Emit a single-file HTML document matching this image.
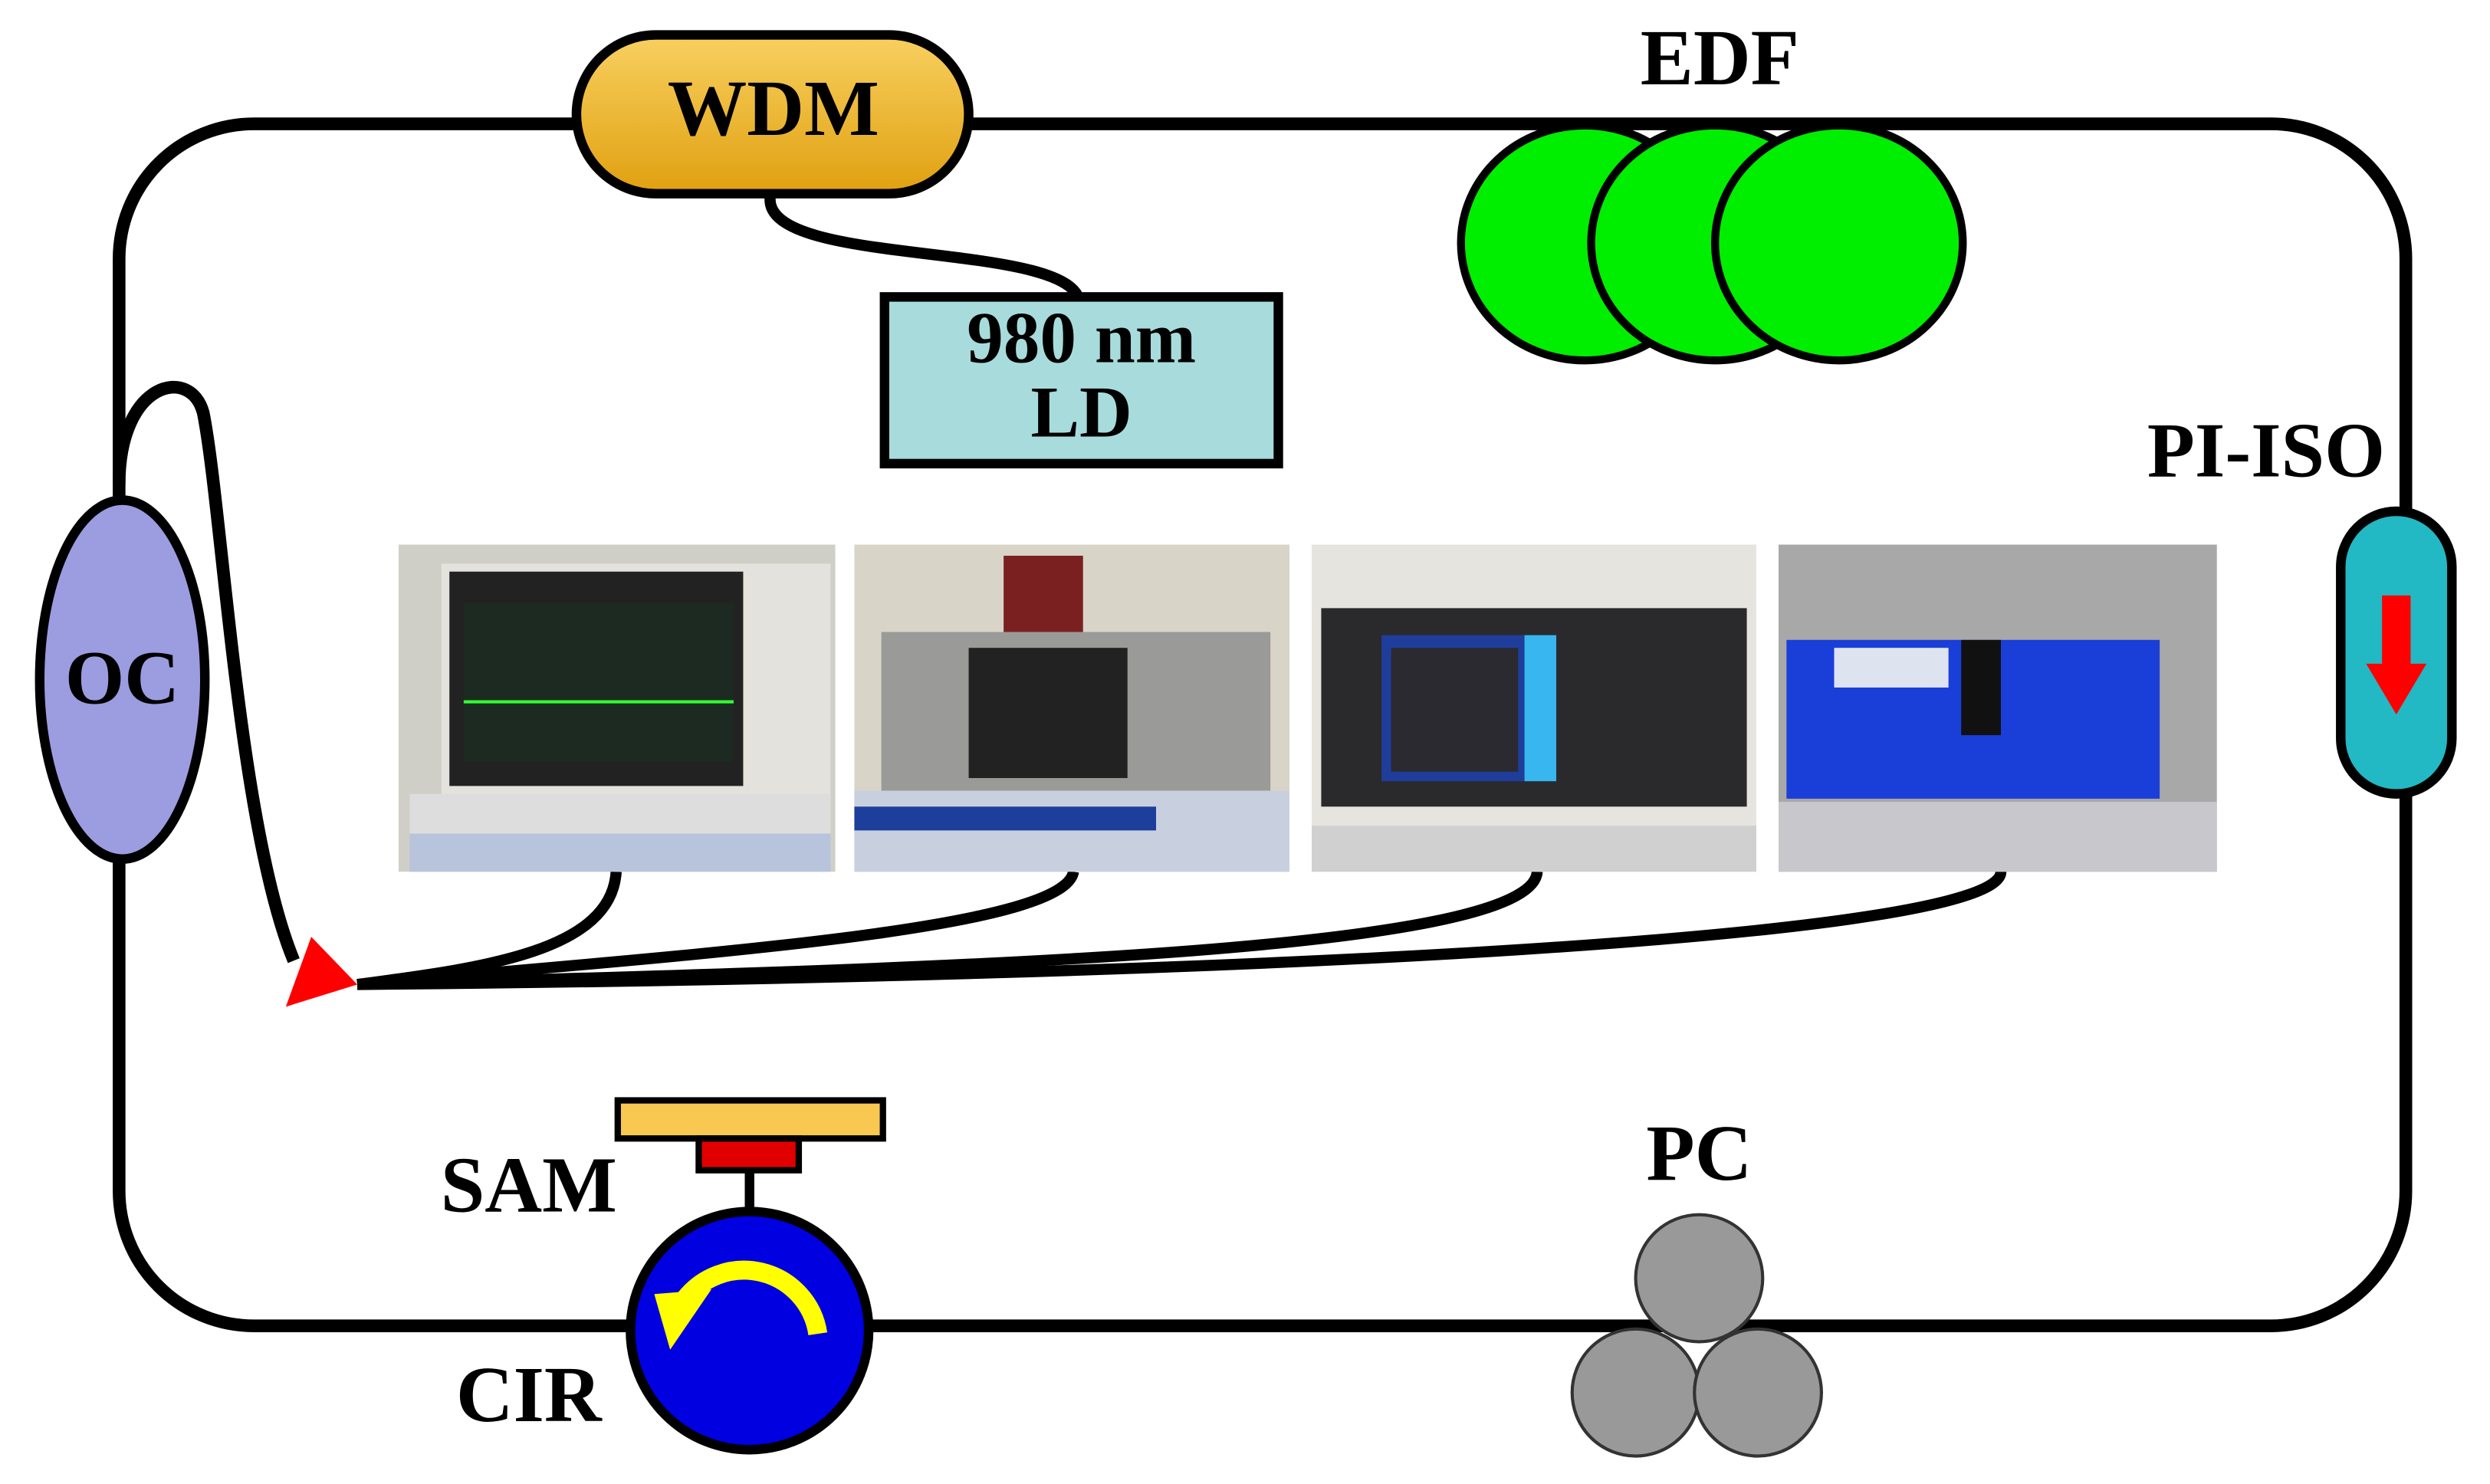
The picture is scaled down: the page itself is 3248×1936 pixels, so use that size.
<!DOCTYPE html>
<html><head><meta charset="utf-8"><style>
html,body{margin:0;padding:0;background:#fff;}
svg{display:block;}
text{font-family:"Liberation Serif",serif;font-weight:bold;fill:#000;}
</style></head><body>
<svg width="3248" height="1936" viewBox="0 0 1568 934.6" preserveAspectRatio="none" xmlns="http://www.w3.org/2000/svg">
<defs>
<linearGradient id="g1" x1="0" y1="0" x2="0" y2="1"><stop offset="0" stop-color="#f8d060"/><stop offset="1" stop-color="#e0a010"/></linearGradient>
</defs>
<rect x="75" y="78" width="1440" height="757" rx="85" fill="none" stroke="#000" stroke-width="8"/>
<path d="M75 305 C 75 240, 120 230, 128 260 C 140 320, 150 520, 185 605" fill="none" stroke="#000" stroke-width="8"/>
<g fill="none" stroke="#000" stroke-width="7">
<path d="M388 549 C 385 600, 300 610, 225 620"/>
<path d="M676 549 C 670 585, 450 600, 225 620"/>
<path d="M968 549 C 965 600, 600 610, 225 620"/>
<path d="M1260 549 C 1260 590, 800 615, 225 620"/>
</g>
<polygon points="180,634 225,620 196,590" fill="#ff0000"/>
<path d="M485 124 C 480 170, 680 150, 680 192" fill="none" stroke="#000" stroke-width="7"/>
<rect x="363" y="22" width="247" height="100" rx="50" fill="url(#g1)" stroke="#000" stroke-width="6"/>
<text x="487" y="85" font-size="50" text-anchor="middle">WDM</text>
<rect x="557" y="187" width="248" height="105" fill="#a8dcdc" stroke="#000" stroke-width="6"/>
<text x="681" y="228" font-size="46" text-anchor="middle">980 nm</text>
<text x="681" y="275" font-size="46" text-anchor="middle">LD</text>
<text x="1083" y="53" font-size="50" text-anchor="middle">EDF</text>
<ellipse cx="998" cy="153" rx="78" ry="74" fill="#00ee00" stroke="#000" stroke-width="5"/>
<ellipse cx="1080" cy="153" rx="78" ry="74" fill="#00ee00" stroke="#000" stroke-width="5"/>
<ellipse cx="1158" cy="153" rx="78" ry="74" fill="#00ee00" stroke="#000" stroke-width="5"/>
<text x="1427" y="300" font-size="49" text-anchor="middle">PI-ISO</text>
<rect x="1474" y="322" width="70" height="178" rx="35" fill="#22b8c4" stroke="#000" stroke-width="6"/>
<rect x="1500" y="375" width="18" height="45" fill="#f00"/>
<polygon points="1490,418 1528,418 1509,450" fill="#f00"/>
<ellipse cx="77" cy="428" rx="52" ry="113" fill="#9c9ce0" stroke="#000" stroke-width="6"/>
<text x="77" y="443" font-size="48" text-anchor="middle">OC</text>
<g>
<rect x="251" y="343" width="275" height="206" fill="#cfcfc8"/>
<rect x="278" y="355" width="245" height="170" fill="#e4e2dc"/>
<rect x="283" y="360" width="185" height="135" fill="#222"/>
<rect x="292" y="380" width="170" height="100" fill="#1d2a22"/>
<line x1="292" y1="442" x2="462" y2="442" stroke="#3f3" stroke-width="2"/>
<rect x="258" y="500" width="265" height="25" fill="#ddd"/>
<rect x="258" y="525" width="265" height="24" fill="#b8c4dc"/>
<rect x="538" y="343" width="274" height="206" fill="#d8d4c8"/>
<rect x="632" y="350" width="50" height="50" fill="#7a2020"/>
<rect x="555" y="398" width="245" height="100" fill="#9a9a98"/>
<rect x="610" y="408" width="100" height="82" fill="#222"/>
<rect x="538" y="498" width="274" height="51" fill="#c8d0e0"/>
<rect x="538" y="508" width="190" height="15" fill="#1d3e9a"/>
<rect x="826" y="343" width="280" height="206" fill="#e6e4de"/>
<rect x="832" y="383" width="268" height="125" fill="#2a2a2c"/>
<rect x="870" y="400" width="90" height="92" fill="#1f3d9a"/>
<rect x="876" y="408" width="80" height="78" fill="#2a2a30"/>
<rect x="960" y="400" width="20" height="92" fill="#37b6f0"/>
<rect x="826" y="520" width="280" height="29" fill="#d0d0d0"/>
<rect x="1120" y="343" width="276" height="206" fill="#a8a8a8"/>
<rect x="1125" y="403" width="235" height="100" fill="#1a3fd8"/>
<rect x="1155" y="408" width="72" height="25" fill="#dde4f0"/>
<rect x="1235" y="403" width="25" height="60" fill="#111"/>
<rect x="1120" y="505" width="276" height="44" fill="#c8c8cc"/>
</g>
<rect x="389" y="693" width="167" height="24" fill="#f8c850" stroke="#000" stroke-width="4"/>
<rect x="440" y="717" width="63" height="20" fill="#e00000" stroke="#000" stroke-width="4"/>
<line x1="472" y1="737" x2="472" y2="765" stroke="#000" stroke-width="6"/>
<circle cx="472" cy="838" r="75" fill="#0000e0" stroke="#000" stroke-width="6"/>
<path d="M515 840 A 47 47 0 0 0 430 820" fill="none" stroke="#ffff00" stroke-width="12"/>
<polygon points="412,815 448,812 422,850" fill="#ffff00"/>
<text x="333" y="763" font-size="50" text-anchor="middle">SAM</text>
<text x="333" y="895" font-size="50" text-anchor="middle">CIR</text>
<text x="1070" y="743" font-size="50" text-anchor="middle">PC</text>
<circle cx="1070" cy="805" r="40" fill="#999" stroke="#333" stroke-width="2"/>
<circle cx="1030" cy="877" r="40" fill="#999" stroke="#333" stroke-width="2"/>
<circle cx="1107" cy="877" r="40" fill="#999" stroke="#333" stroke-width="2"/>
</svg>
</body></html>
